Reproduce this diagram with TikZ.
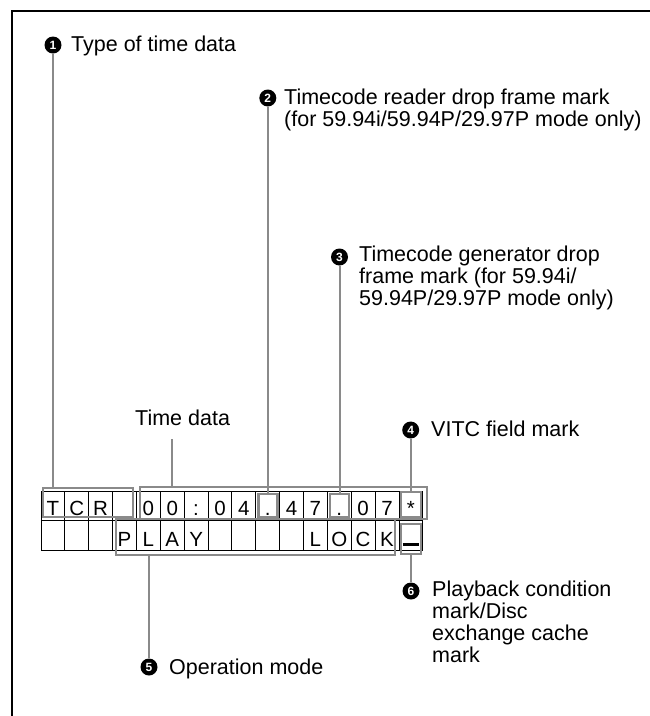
\documentclass[tikz,border=0pt]{standalone}
\usepackage{fontspec}
\setmainfont{Liberation Sans}
\definecolor{lg}{RGB}{138,138,138}
\begin{document}
\begin{tikzpicture}[x=1pt,y=-1pt,
  cellA/.style={draw=black, line width=0.8pt, minimum width=23.86pt, inner sep=0pt, outer sep=0pt,
    text height=23.3pt, text depth=5.7pt, anchor=south west, font=\fontsize{20.5}{20.5}\selectfont},
  cellB/.style={cellA, text height=25.3pt, text depth=4.7pt},
  gbox/.style={draw=lg, line width=1.6pt, inner sep=0pt, outer sep=0pt},
  gboxthick/.style={gbox, line width=2.4pt},
  conn/.style={draw=lg, line width=2pt},
  bullet/.style={circle, fill=black, text=white, inner sep=0pt, minimum size=17pt,
    font=\fontsize{12}{12}\selectfont\bfseries},
  lbl/.style={anchor=base west, align=left, inner sep=0pt, font=\fontsize{21.5}{21.7}\selectfont}]
\useasboundingbox (0,0) rectangle (650,716);
% frame (cropped)
\draw[line width=2.3pt] (12,717) -- (12,11) -- (651,11);
% display cells
\foreach \c [count=\i] in {T,C,R,{},0,0,{:},0,4,{.},4,7,{.},0,7,{*}}
  \node[cellA] (a\i) at ({41+(\i-1)*23.86},520.7) {\c};
\foreach \c [count=\i] in {{},{},{},P,L,A,Y,{},{},{},{},L,O,C,K,{\rule{16pt}{3pt}}}
  \node[cellB] (b\i) at ({41+(\i-1)*23.86},550.7) {\c};
% gray group boxes
\node[gbox, minimum width=90pt, minimum height=29pt] (tcrbox) at (88,502.5) {};
\node[gbox, minimum width=287pt, minimum height=32pt] (timebox) at (283.5,503) {};
\node[gboxthick, minimum width=19pt, minimum height=23pt] (dotA) at (267.8,505.5) {};
\node[gboxthick, minimum width=19pt, minimum height=23pt] (dotB) at (339.5,505.5) {};
\node[gboxthick, minimum width=20pt, minimum height=25.3pt] (starbox) at (410.7,504.4) {};
\node[gbox, minimum width=279pt, minimum height=36pt] (playbox) at (255.5,537) {};
\node[gboxthick, minimum width=20pt, minimum height=30pt] (lastbox) at (411,539) {};
% bullets
\node[bullet] (n1) at (53,45) {1};
\node[bullet] (n2) at (267.8,98) {2};
\node[bullet] (n3) at (339.5,257) {3};
\node[bullet] (n4) at (410.7,430) {4};
\node[bullet] (n5) at (149,667) {5};
\node[bullet] (n6) at (411,591) {6};
% labels (anchor = baseline of last line)
\node[lbl] (t1) at (71,51.5) {Type of time data};
\node[lbl] (t2) at (284,126) {Timecode reader drop frame mark\\(for 59.94i/59.94P/29.97P mode only)};
\node[lbl] (t3) at (359,305) {Timecode generator drop\\frame mark (for 59.94i/\\59.94P/29.97P mode only)};
\node[lbl] (t4) at (431,436) {VITC field mark};
\node[lbl] (td) at (135,425) {Time data};
\node[lbl] (t5) at (169,674) {Operation mode};
\node[lbl] (t6) at (432,662) {Playback condition\\mark/Disc\\exchange cache\\mark};
\coordinate (tdl) at (172,439);
% connectors
\draw[conn] (n1.south) -- (n1.south |- tcrbox.north);
\draw[conn] (tdl) -- (tdl |- timebox.north);
\draw[conn] (n2.south) -- (n2.south |- dotA.north);
\draw[conn] (n3.south) -- (n3.south |- dotB.north);
\draw[conn] (n4.south) -- (n4.south |- starbox.north);
\draw[conn] (playbox.south -| n5) -- (n5.north);
\draw[conn] (lastbox.south -| n6) -- (n6.north);
\end{tikzpicture}
\end{document}
